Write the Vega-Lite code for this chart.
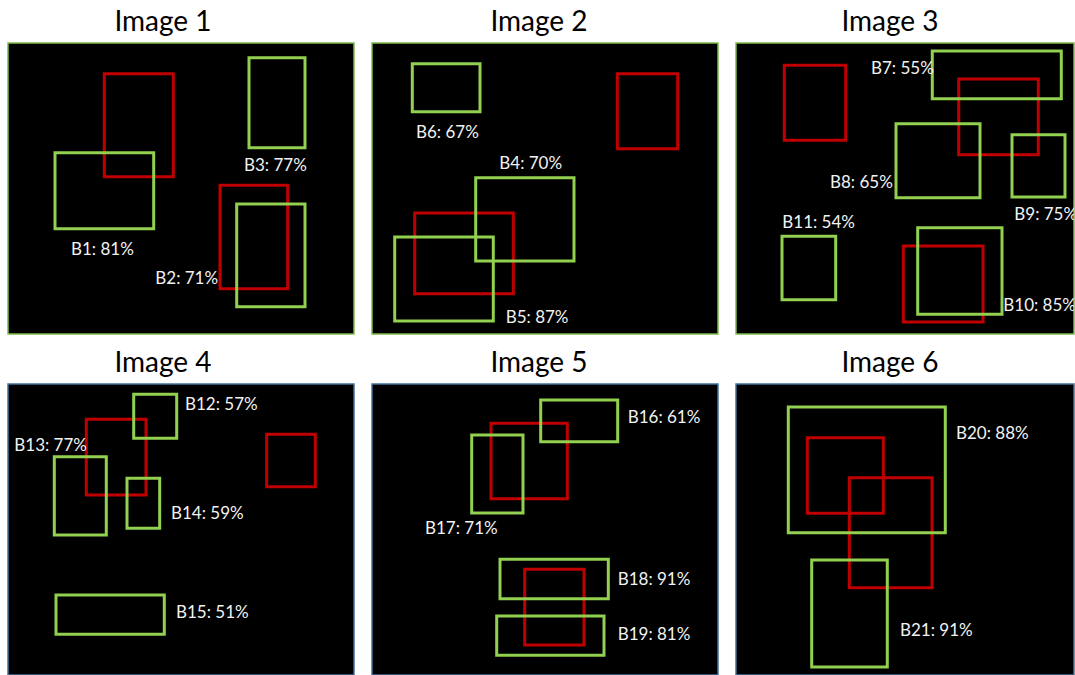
{
  "$schema": "https://vega.github.io/schema/vega-lite/v6.json",
  "background": "white",
  "padding": {"left": 7, "top": 8, "right": 0, "bottom": 0},
  "config": {
    "view": {"fill": "black", "strokeWidth": 1.5},
    "title": {"font": "Lato", "fontSize": 28, "fontWeight": "normal", "color": "black", "baseline": "alphabetic", "offset": 6, "anchor": "middle"},
    "text": {"font": "Lato"}
  },
  "datasets": {
    "boxes": [
      {"img": 1, "kind": "gt", "box": "", "x1": 96.3, "x2": 165.3, "y1": 30.7, "y2": 133.7},
      {"img": 1, "kind": "gt", "box": "", "x1": 212, "x2": 279.7, "y1": 142.3, "y2": 245.7},
      {"img": 1, "kind": "pred", "box": "B1", "x1": 47, "x2": 145.7, "y1": 109.7, "y2": 185.7},
      {"img": 1, "kind": "pred", "box": "B2", "x1": 228.7, "x2": 297, "y1": 161, "y2": 263.7},
      {"img": 1, "kind": "pred", "box": "B3", "x1": 241, "x2": 297, "y1": 14.7, "y2": 104.7},
      {"img": 2, "kind": "gt", "box": "", "x1": 245.3, "x2": 305.7, "y1": 30.7, "y2": 105.7},
      {"img": 2, "kind": "gt", "box": "", "x1": 42.7, "x2": 141.3, "y1": 170, "y2": 250.7},
      {"img": 2, "kind": "pred", "box": "B4", "x1": 103.7, "x2": 202, "y1": 134.7, "y2": 218},
      {"img": 2, "kind": "pred", "box": "B5", "x1": 22.7, "x2": 121.3, "y1": 194, "y2": 278},
      {"img": 2, "kind": "pred", "box": "B6", "x1": 40.3, "x2": 108, "y1": 20.7, "y2": 68.7},
      {"img": 3, "kind": "gt", "box": "", "x1": 48.3, "x2": 109.7, "y1": 22.3, "y2": 97.3},
      {"img": 3, "kind": "gt", "box": "", "x1": 222.7, "x2": 302.3, "y1": 36, "y2": 111.7},
      {"img": 3, "kind": "gt", "box": "", "x1": 167.3, "x2": 247, "y1": 203, "y2": 279},
      {"img": 3, "kind": "pred", "box": "B7", "x1": 196.3, "x2": 325.3, "y1": 8, "y2": 55.7},
      {"img": 3, "kind": "pred", "box": "B8", "x1": 160, "x2": 244, "y1": 80.7, "y2": 154.7},
      {"img": 3, "kind": "pred", "box": "B9", "x1": 276, "x2": 329, "y1": 91.7, "y2": 154},
      {"img": 3, "kind": "pred", "box": "B10", "x1": 181.7, "x2": 266, "y1": 184.7, "y2": 271.3},
      {"img": 3, "kind": "pred", "box": "B11", "x1": 46, "x2": 99.7, "y1": 193.3, "y2": 256.7},
      {"img": 4, "kind": "gt", "box": "", "x1": 78.3, "x2": 138, "y1": 35.3, "y2": 111},
      {"img": 4, "kind": "gt", "box": "", "x1": 258.7, "x2": 307.3, "y1": 50.3, "y2": 102.7},
      {"img": 4, "kind": "pred", "box": "B12", "x1": 125.7, "x2": 168.7, "y1": 10.3, "y2": 54.3},
      {"img": 4, "kind": "pred", "box": "B13", "x1": 46.3, "x2": 98.3, "y1": 72.7, "y2": 151},
      {"img": 4, "kind": "pred", "box": "B14", "x1": 119, "x2": 151.7, "y1": 94.3, "y2": 144.3},
      {"img": 4, "kind": "pred", "box": "B15", "x1": 48, "x2": 156.3, "y1": 211, "y2": 250.3},
      {"img": 5, "kind": "gt", "box": "", "x1": 119, "x2": 195.3, "y1": 39.3, "y2": 114.7},
      {"img": 5, "kind": "gt", "box": "", "x1": 152.7, "x2": 212, "y1": 185.3, "y2": 261},
      {"img": 5, "kind": "pred", "box": "B16", "x1": 168.7, "x2": 245.7, "y1": 16, "y2": 57.7},
      {"img": 5, "kind": "pred", "box": "B17", "x1": 99.7, "x2": 151, "y1": 51, "y2": 129},
      {"img": 5, "kind": "pred", "box": "B18", "x1": 128, "x2": 236.3, "y1": 175.3, "y2": 214.7},
      {"img": 5, "kind": "pred", "box": "B19", "x1": 124.7, "x2": 232, "y1": 232, "y2": 271.3},
      {"img": 6, "kind": "gt", "box": "", "x1": 71.3, "x2": 147.3, "y1": 53.7, "y2": 129.3},
      {"img": 6, "kind": "gt", "box": "", "x1": 113.3, "x2": 196, "y1": 93.7, "y2": 203.7},
      {"img": 6, "kind": "pred", "box": "B20", "x1": 52.3, "x2": 209.3, "y1": 23, "y2": 148.7},
      {"img": 6, "kind": "pred", "box": "B21", "x1": 75.7, "x2": 151.3, "y1": 176, "y2": 283}
    ],
    "labels": [
      {"img": 1, "label": "B3: 77%", "lx": 236, "ly": 128},
      {"img": 1, "label": "B1: 81%", "lx": 63, "ly": 212},
      {"img": 1, "label": "B2: 71%", "lx": 147.3, "ly": 240.7},
      {"img": 2, "label": "B6: 67%", "lx": 44, "ly": 94.7},
      {"img": 2, "label": "B4: 70%", "lx": 127.3, "ly": 125.7},
      {"img": 2, "label": "B5: 87%", "lx": 133.7, "ly": 279.7},
      {"img": 3, "label": "B7: 55%", "lx": 135, "ly": 30.7},
      {"img": 3, "label": "B8: 65%", "lx": 94, "ly": 145.3},
      {"img": 3, "label": "B9: 75%", "lx": 278.3, "ly": 177.3},
      {"img": 3, "label": "B11: 54%", "lx": 46.3, "ly": 184.7},
      {"img": 3, "label": "B10: 85%", "lx": 267.3, "ly": 268},
      {"img": 4, "label": "B12: 57%", "lx": 177, "ly": 26.3},
      {"img": 4, "label": "B13: 77%", "lx": 6.3, "ly": 67},
      {"img": 4, "label": "B14: 59%", "lx": 163, "ly": 135.3},
      {"img": 4, "label": "B15: 51%", "lx": 168, "ly": 234.3},
      {"img": 5, "label": "B16: 61%", "lx": 255.7, "ly": 38.7},
      {"img": 5, "label": "B17: 71%", "lx": 53, "ly": 150.3},
      {"img": 5, "label": "B18: 91%", "lx": 245.7, "ly": 201},
      {"img": 5, "label": "B19: 81%", "lx": 245.7, "ly": 256},
      {"img": 6, "label": "B20: 88%", "lx": 220, "ly": 54.7},
      {"img": 6, "label": "B21: 91%", "lx": 164, "ly": 252}
    ]
  },
  "columns": 3,
  "spacing": {"row": 14, "column": 16},
  "concat": [
    {
      "width": 346, "height": 291,
      "title": {"text": "Image 1", "dx": -18},
      "view": {"stroke": "#7CB94A"},
      "layer": [
        {"data": {"name": "boxes"}, "transform": [{"filter": "datum.img === 1"}],
         "mark": {"type": "rect", "filled": false, "strokeWidth": 3},
         "encoding": {
           "x": {"field": "x1", "type": "quantitative", "scale": {"domain": [0, 346], "nice": false, "zero": false}, "axis": null},
           "x2": {"field": "x2"},
           "y": {"field": "y1", "type": "quantitative", "scale": {"domain": [0, 291], "reverse": true, "nice": false, "zero": false}, "axis": null},
           "y2": {"field": "y2"},
           "color": {"field": "kind", "type": "nominal", "scale": {"domain": ["gt", "pred"], "range": ["#C00000", "#92D050"]}, "legend": null}
         }},
        {"data": {"name": "labels"}, "transform": [{"filter": "datum.img === 1"}],
         "mark": {"type": "text", "align": "left", "baseline": "alphabetic", "fontSize": 17, "color": "#F2F2F2"},
         "encoding": {
           "x": {"field": "lx", "type": "quantitative", "axis": null},
           "y": {"field": "ly", "type": "quantitative", "axis": null},
           "text": {"field": "label"}
         }}
      ]
    },
    {
      "width": 346, "height": 291,
      "title": {"text": "Image 2", "dx": -6},
      "view": {"stroke": "#7CB94A"},
      "layer": [
        {"data": {"name": "boxes"}, "transform": [{"filter": "datum.img === 2"}],
         "mark": {"type": "rect", "filled": false, "strokeWidth": 3},
         "encoding": {
           "x": {"field": "x1", "type": "quantitative", "scale": {"domain": [0, 346], "nice": false, "zero": false}, "axis": null},
           "x2": {"field": "x2"},
           "y": {"field": "y1", "type": "quantitative", "scale": {"domain": [0, 291], "reverse": true, "nice": false, "zero": false}, "axis": null},
           "y2": {"field": "y2"},
           "color": {"field": "kind", "type": "nominal", "scale": {"domain": ["gt", "pred"], "range": ["#C00000", "#92D050"]}, "legend": null}
         }},
        {"data": {"name": "labels"}, "transform": [{"filter": "datum.img === 2"}],
         "mark": {"type": "text", "align": "left", "baseline": "alphabetic", "fontSize": 17, "color": "#F2F2F2"},
         "encoding": {
           "x": {"field": "lx", "type": "quantitative", "axis": null},
           "y": {"field": "ly", "type": "quantitative", "axis": null},
           "text": {"field": "label"}
         }}
      ]
    },
    {
      "width": 338, "height": 291,
      "title": {"text": "Image 3", "dx": -15},
      "view": {"stroke": "#7CB94A"},
      "layer": [
        {"data": {"name": "boxes"}, "transform": [{"filter": "datum.img === 3"}],
         "mark": {"type": "rect", "filled": false, "strokeWidth": 3},
         "encoding": {
           "x": {"field": "x1", "type": "quantitative", "scale": {"domain": [0, 338], "nice": false, "zero": false}, "axis": null},
           "x2": {"field": "x2"},
           "y": {"field": "y1", "type": "quantitative", "scale": {"domain": [0, 291], "reverse": true, "nice": false, "zero": false}, "axis": null},
           "y2": {"field": "y2"},
           "color": {"field": "kind", "type": "nominal", "scale": {"domain": ["gt", "pred"], "range": ["#C00000", "#92D050"]}, "legend": null}
         }},
        {"data": {"name": "labels"}, "transform": [{"filter": "datum.img === 3"}],
         "mark": {"type": "text", "align": "left", "baseline": "alphabetic", "fontSize": 17, "color": "#F2F2F2", "clip": true},
         "encoding": {
           "x": {"field": "lx", "type": "quantitative", "axis": null},
           "y": {"field": "ly", "type": "quantitative", "axis": null},
           "text": {"field": "label"}
         }}
      ]
    },
    {
      "width": 346, "height": 291,
      "title": {"text": "Image 4", "dx": -18},
      "view": {"stroke": "#41719C"},
      "layer": [
        {"data": {"name": "boxes"}, "transform": [{"filter": "datum.img === 4"}],
         "mark": {"type": "rect", "filled": false, "strokeWidth": 3},
         "encoding": {
           "x": {"field": "x1", "type": "quantitative", "scale": {"domain": [0, 346], "nice": false, "zero": false}, "axis": null},
           "x2": {"field": "x2"},
           "y": {"field": "y1", "type": "quantitative", "scale": {"domain": [0, 291], "reverse": true, "nice": false, "zero": false}, "axis": null},
           "y2": {"field": "y2"},
           "color": {"field": "kind", "type": "nominal", "scale": {"domain": ["gt", "pred"], "range": ["#C00000", "#92D050"]}, "legend": null}
         }},
        {"data": {"name": "labels"}, "transform": [{"filter": "datum.img === 4"}],
         "mark": {"type": "text", "align": "left", "baseline": "alphabetic", "fontSize": 17, "color": "#F2F2F2"},
         "encoding": {
           "x": {"field": "lx", "type": "quantitative", "axis": null},
           "y": {"field": "ly", "type": "quantitative", "axis": null},
           "text": {"field": "label"}
         }}
      ]
    },
    {
      "width": 346, "height": 291,
      "title": {"text": "Image 5", "dx": -6},
      "view": {"stroke": "#41719C"},
      "layer": [
        {"data": {"name": "boxes"}, "transform": [{"filter": "datum.img === 5"}],
         "mark": {"type": "rect", "filled": false, "strokeWidth": 3},
         "encoding": {
           "x": {"field": "x1", "type": "quantitative", "scale": {"domain": [0, 346], "nice": false, "zero": false}, "axis": null},
           "x2": {"field": "x2"},
           "y": {"field": "y1", "type": "quantitative", "scale": {"domain": [0, 291], "reverse": true, "nice": false, "zero": false}, "axis": null},
           "y2": {"field": "y2"},
           "color": {"field": "kind", "type": "nominal", "scale": {"domain": ["gt", "pred"], "range": ["#C00000", "#92D050"]}, "legend": null}
         }},
        {"data": {"name": "labels"}, "transform": [{"filter": "datum.img === 5"}],
         "mark": {"type": "text", "align": "left", "baseline": "alphabetic", "fontSize": 17, "color": "#F2F2F2"},
         "encoding": {
           "x": {"field": "lx", "type": "quantitative", "axis": null},
           "y": {"field": "ly", "type": "quantitative", "axis": null},
           "text": {"field": "label"}
         }}
      ]
    },
    {
      "width": 338, "height": 291,
      "title": {"text": "Image 6", "dx": -15},
      "view": {"stroke": "#41719C"},
      "layer": [
        {"data": {"name": "boxes"}, "transform": [{"filter": "datum.img === 6"}],
         "mark": {"type": "rect", "filled": false, "strokeWidth": 3},
         "encoding": {
           "x": {"field": "x1", "type": "quantitative", "scale": {"domain": [0, 338], "nice": false, "zero": false}, "axis": null},
           "x2": {"field": "x2"},
           "y": {"field": "y1", "type": "quantitative", "scale": {"domain": [0, 291], "reverse": true, "nice": false, "zero": false}, "axis": null},
           "y2": {"field": "y2"},
           "color": {"field": "kind", "type": "nominal", "scale": {"domain": ["gt", "pred"], "range": ["#C00000", "#92D050"]}, "legend": null}
         }},
        {"data": {"name": "labels"}, "transform": [{"filter": "datum.img === 6"}],
         "mark": {"type": "text", "align": "left", "baseline": "alphabetic", "fontSize": 17, "color": "#F2F2F2", "clip": true},
         "encoding": {
           "x": {"field": "lx", "type": "quantitative", "axis": null},
           "y": {"field": "ly", "type": "quantitative", "axis": null},
           "text": {"field": "label"}
         }}
      ]
    }
  ]
}
